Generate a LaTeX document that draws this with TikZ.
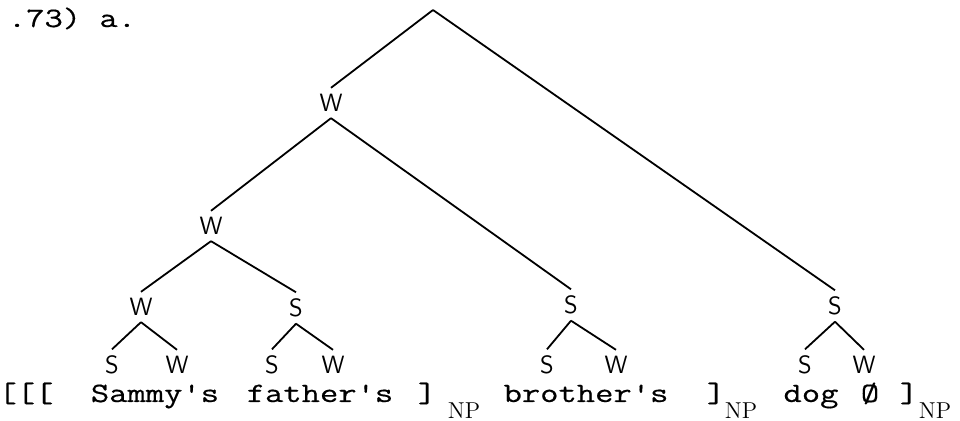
\documentclass[tikz,border=0pt]{standalone}
\usepackage{fontspec}
\usetikzlibrary{positioning}
\newfontfamily\tw[FakeStretch=1.27,FakeBold=0.5]{Latin Modern Mono}

\begin{document}
\begin{tikzpicture}[x=0.5pt,y=-0.5pt,line width=0.9pt,
  lab/.style={font=\sffamily\fontsize{12.5}{14}\selectfont,inner xsep=1pt,inner ysep=2.8pt},
  word/.style={anchor=base,inner sep=0pt,font=\tw\fontsize{14}{16}\selectfont},
  np/.style={anchor=base,inner sep=0pt,font=\rmfamily\fontsize{11.5}{13}\selectfont}]
\useasboundingbox (0,0) rectangle (960,421);
\node[word] (ex) at (72,27) {.73) a.};
\coordinate (top) at (433,10);
\node[lab] (w1) at (331,103) {W};
\node[lab] (w2) at (211,226) {W};
\node[lab] (w3) at (141,307) {W};
\node[lab] (s3a) at (296,308) {S};
\node[lab] (s3b) at (571,305) {S};
\node[lab] (s3c) at (835,306) {S};
\foreach \n/\x/\t in {s4a/112/S,w4a/177/W,s4b/272/S,w4b/333/W,s4c/547/S,w4c/616/W,s4d/805/S,w4d/864/W}{
   \node[lab] (\n) at (\x,365) {\t};
}
\draw (top) -- (w1.north);
\draw (top) -- (s3c.north);
\foreach \p/\c in {w1/w2,w1/s3b,w2/w3,w2/s3a,w3/s4a,w3/w4a,s3a/s4b,s3a/w4b,s3b/s4c,s3b/w4c,s3c/s4d,s3c/w4d}{
   \draw (\p.south) -- (\c.north);
}
% bracketed string
\foreach \n/\x/\t in {t1/26/{[[[},t2/155/Sammy's,t3/320/father's,t4/427/],t6/586/brother's,t7/716/],t9/811/dog,t10/870/\O,t11/909/]}{
   \node[word] (\n) at (\x,402) {\t};
}
\foreach \n/\x in {t5/464,t8/741,t12/935}{
   \node[np] (\n) at (\x,419) {NP};
}
\end{tikzpicture}
\end{document}
